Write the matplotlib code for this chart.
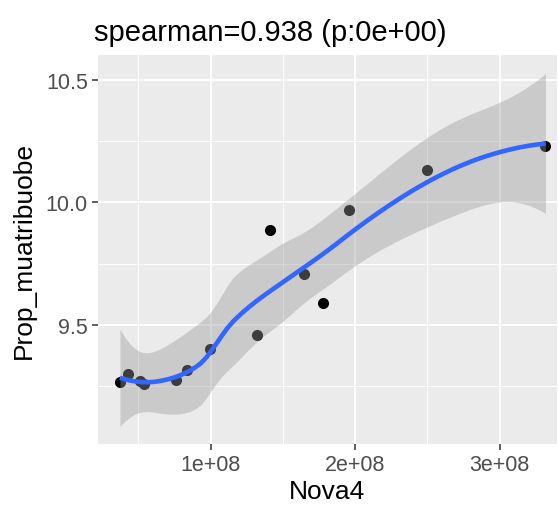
import numpy as np
import matplotlib
matplotlib.use("Agg")
import matplotlib.pyplot as plt
from matplotlib.ticker import FixedLocator

# data
nova4 = [0.372e8, 0.43e8, 0.511e8, 0.538e8, 0.758e8, 0.834e8, 0.995e8,
         1.318e8, 1.41e8, 1.648e8, 1.78e8, 1.96e8, 2.50e8, 3.318e8]
prop = [9.266, 9.300, 9.273, 9.259, 9.277, 9.318, 9.400,
        9.459, 9.888, 9.708, 9.588, 9.969, 10.131, 10.229]
x_ticks = [1e8, 2e8, 3e8]
x_tick_labels = ['1e+08', '2e+08', '3e+08']
y_ticks = [9.5, 10.0, 10.5]
y_tick_labels = ['9.5', '10.0', '10.5']
title = 'spearman=0.938 (p:0e+00)'


def local_rows(x, x0, span=0.75):
    # local quadratic fit with tricube weights (R loess defaults)
    # returns the operator rows for value and slope at x0
    n = len(x)
    q = int(np.floor(n * span))
    d = np.abs(x - x0)
    h = np.sort(d)[q - 1]
    w = np.clip(1 - (d / h) ** 3, 0, None) ** 3
    X = np.column_stack([np.ones(n), x - x0, (x - x0) ** 2])
    W = np.diag(w)
    A = np.linalg.pinv(X.T @ W @ X) @ X.T @ W
    return A[0], A[1]


def kd_vertices(xsorted, fc):
    # 1-d version of the loess kd tree: split cells at the median
    rng = xsorted[-1] - xsorted[0]
    verts = [xsorted[0] - 0.005 * rng, xsorted[-1] + 0.005 * rng]

    def split(l, u):
        if u - l + 1 <= fc:
            return
        m = (l + u) // 2
        verts.append((xsorted[m] + xsorted[m + 1]) / 2)
        split(l, m)
        split(m + 1, u)

    split(0, len(xsorted) - 1)
    return np.array(sorted(verts))


def loess_operator(x, xs, span=0.75, cell=0.2):
    fc = int(np.floor(len(x) * span * cell))
    verts = kd_vertices(np.sort(x), fc)
    vals, slopes = zip(*[local_rows(x, v, span) for v in verts])
    vals, slopes = np.array(vals), np.array(slopes)
    L = np.zeros((len(xs), len(x)))
    for i, x0 in enumerate(xs):
        j = np.clip(np.searchsorted(verts, x0) - 1, 0, len(verts) - 2)
        h = verts[j + 1] - verts[j]
        t = (x0 - verts[j]) / h
        h00 = 2 * t ** 3 - 3 * t ** 2 + 1
        h10 = t ** 3 - 2 * t ** 2 + t
        h01 = -2 * t ** 3 + 3 * t ** 2
        h11 = t ** 3 - t ** 2
        L[i] = (h00 * vals[j] + h10 * h * slopes[j]
                + h01 * vals[j + 1] + h11 * h * slopes[j + 1])
    return L


def t_quantile(df):
    # Cornish-Fisher expansion of the 97.5% t quantile
    z = 1.959963985
    g1 = (z ** 3 + z) / 4
    g2 = (5 * z ** 5 + 16 * z ** 3 + 3 * z) / 96
    g3 = (3 * z ** 7 + 19 * z ** 5 + 17 * z ** 3 - 15 * z) / 384
    return z + g1 / df + g2 / df ** 2 + g3 / df ** 3


x = np.array(nova4) / 1e8
y = np.array(prop)
xs = np.linspace(x.min(), x.max(), 80)

L_fit = loess_operator(x, x)
resid = y - L_fit @ y
I_L = np.eye(len(x)) - L_fit
M = I_L.T @ I_L
one_delta = np.trace(M)
two_delta = np.trace(M @ M)
sigma = np.sqrt(np.sum(resid ** 2) / one_delta)
df = one_delta ** 2 / two_delta

L = loess_operator(x, xs)
fit = L @ y
se = sigma * np.sqrt(np.sum(L ** 2, axis=1))
tq = t_quantile(df)

plt.rcParams['font.family'] = ['Liberation Sans', 'DejaVu Sans']

fig = plt.figure(figsize=(5.58, 5.06), dpi=100)
ax = fig.add_axes([0.1756, 0.1206, 0.8224, 0.7687])
ax.set_facecolor('#EBEBEB')

ax.scatter(x * 1e8, y, s=64, color='black', zorder=3, linewidths=0)
ax.fill_between(xs * 1e8, fit - tq * se, fit + tq * se,
                color='#999999', alpha=0.4, lw=0, zorder=4)
ax.plot(xs * 1e8, fit, color='#3366FF', lw=3.3, zorder=5,
        solid_capstyle='butt')

ax.set_xlim(0.22e8, 3.397e8)
ax.set_ylim(9.015, 10.60)

ax.xaxis.set_major_locator(FixedLocator(x_ticks))
ax.set_xticklabels(x_tick_labels)
ax.xaxis.set_minor_locator(FixedLocator([0.5e8, 1.5e8, 2.5e8]))
ax.yaxis.set_major_locator(FixedLocator(y_ticks))
ax.set_yticklabels(y_tick_labels)
ax.yaxis.set_minor_locator(FixedLocator([9.25, 9.75, 10.25]))

ax.grid(which='major', color='white', lw=1.3)
ax.grid(which='minor', color='white', lw=0.65)
ax.set_axisbelow(True)
for s in ax.spines.values():
    s.set_visible(False)

ax.tick_params(which='major', length=4.3, width=1.1, color='#333333',
               labelcolor='#4D4D4D', labelsize=15.5, pad=3)
ax.tick_params(which='minor', length=0)

ax.set_xlabel('Nova4', fontsize=19, color='black', labelpad=3)
ax.set_ylabel('Prop_muatribuobe', fontsize=19, color='black', labelpad=7)
ax.set_title(title, fontsize=21, color='black', pad=11, x=0.375)

fig.savefig('out.png', dpi=100)
